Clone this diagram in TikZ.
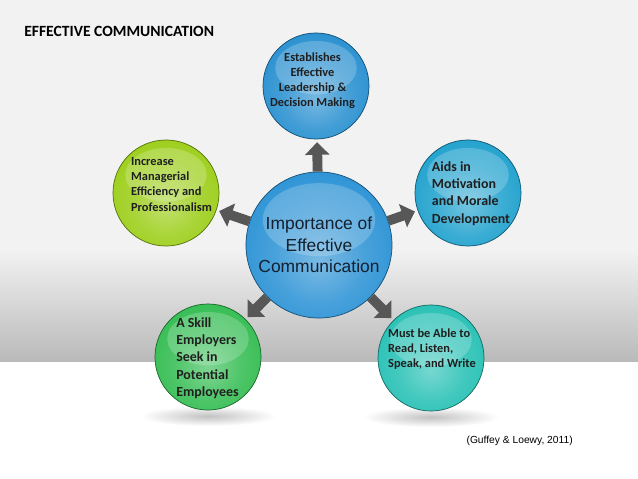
\documentclass[tikz,border=0pt]{standalone}
\usepackage{fontspec}
\newfontfamily\carlito{Carlito}
\newfontfamily\arial{Liberation Sans}
\usetikzlibrary{positioning, arrows.meta}

\definecolor{bgtop}{HTML}{F2F2F2}
\definecolor{bgbot}{HTML}{B9B9B9}
\definecolor{leadblue}{HTML}{238DCF}
\definecolor{hubblue}{HTML}{2790D4}
\definecolor{mgrgreen}{HTML}{9ACD14}
\definecolor{motivcyan}{HTML}{1A9FCC}
\definecolor{skillgreen}{HTML}{2FBB4E}
\definecolor{rlswteal}{HTML}{22BFB3}
\definecolor{hubtext}{HTML}{14202E}

\makeatletter
\pgfdeclareradialshading[tikz@ball]{glass}{\pgfqpoint{0bp}{-6bp}}{%
  color(0bp)=(tikz@ball!62!white);
  color(16bp)=(tikz@ball!85!white);
  color(33bp)=(tikz@ball);
  color(46bp)=(tikz@ball!80!black);
  color(56bp)=(tikz@ball!55!black)}
\makeatother

\tikzset{
  ball/.style={circle, inner sep=0pt, draw=#1!55!black, line width=0.5pt,
    ball color=#1, shading=glass},
  outerball/.style={ball=#1, minimum size=2.65cm,
    path picture={\fill[white, opacity=.2]
      ([yshift=13pt]path picture bounding box.center)
      ellipse [x radius=29pt, y radius=19pt];}},
  hubball/.style={ball=#1, minimum size=3.65cm,
    path picture={\fill[white, opacity=.2]
      ([yshift=18pt]path picture bounding box.center)
      ellipse [x radius=40pt, y radius=26pt];}},
  smalltxt/.style={font=\carlito\bfseries\fontsize{8.8}{10.7}\selectfont,
    text=black!88, align=left, inner sep=0pt},
  bigtxt/.style={font=\carlito\bfseries\fontsize{9.9}{12.3}\selectfont,
    text=black!88, align=left, inner sep=0pt},
  push/.style={line width=7pt, draw=black!66,
    -{Triangle[width=17pt, length=9pt]}, shorten >=2pt},
  floorshadow/.style={inner color=black!24, outer color=white}
}

\begin{document}
\begin{tikzpicture}[x=0.025cm, y=-0.025cm]
  \useasboundingbox (0,0) rectangle (638,479);

  % backdrop: light wall, grey band, white floor
  \fill[bgtop] (0,0) rectangle (638,250);
  \shade[top color=bgtop, bottom color=bgbot] (0,250) rectangle (638,362);
  \fill[white] (0,362) rectangle (638,479);

  % Title
  \node[anchor=base west, inner sep=0pt,
    font=\carlito\bfseries\fontsize{11.1}{13}\selectfont] (title)
    at (24,36.5) {EFFECTIVE COMMUNICATION};

  % shadows under the two lower balls
  \shade[floorshadow] (208,416) ellipse [x radius=68, y radius=10];
  \shade[floorshadow] (431,417) ellipse [x radius=68, y radius=10];

  % Centre ball
  \node[hubball=hubblue, text=hubtext, align=center,
    font=\arial\fontsize{12.4}{15.3}\selectfont] (hub) at (319,245)
    {Importance of\\Effective\\Communication};

  % Outer balls
  \node[outerball=leadblue] (lead) at (316,86) {};
  \node[outerball=mgrgreen] (mgr) at (166,193) {};
  \node[outerball=motivcyan] (motiv) at (468,193) {};
  \node[outerball=skillgreen] (skill) at (208,357) {};
  \node[outerball=rlswteal] (rlsw) at (431,358) {};

  % Texts on the outer balls
  \node[smalltxt, align=center] (leadtxt) at (312.5,81)
    {Establishes\\Effective\\Leadership \&\\Decision Making};
  \node[smalltxt] (mgrtxt) at (171.5,184.5)
    {Increase\\Managerial\\Efficiency and\\Professionalism};
  \node[bigtxt] (motivtxt) at (471,193.5)
    {Aids in\\Motivation\\and Morale\\Development};
  \node[bigtxt] (skilltxt) at (207.5,358)
    {A Skill\\Employers\\Seek in\\Potential\\Employees};
  \node[smalltxt] (rlswtxt) at (432,349.5)
    {Must be Able to\\Read, Listen,\\Speak, and Write};

  % Arrows from the centre
  \draw[push] (hub) -- (lead);
  \draw[push] (hub) -- (mgr);
  \draw[push] (hub) -- (motiv);
  \draw[push] (hub) -- (skill);
  \draw[push] (hub) -- (rlsw);

  % Source
  \node[anchor=base east, inner sep=0pt,
    font=\arial\fontsize{7.3}{9}\selectfont] (cite)
    at (573,443) {(Guffey \& Loewy, 2011)};
\end{tikzpicture}
\end{document}
